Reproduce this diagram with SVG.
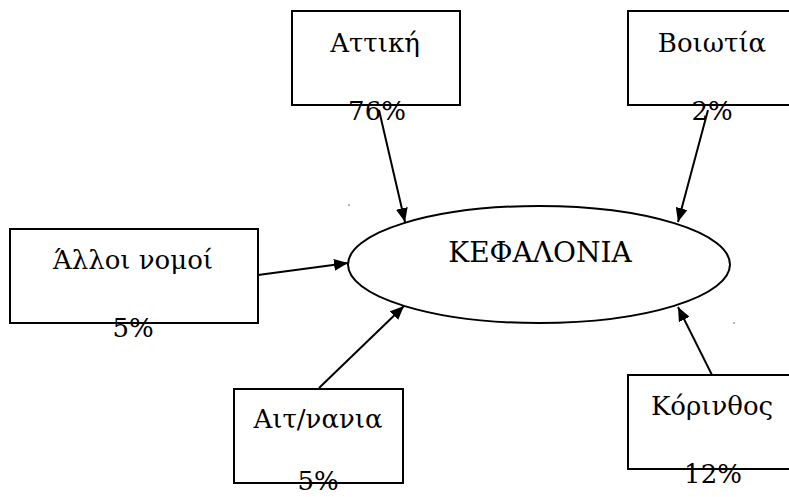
<svg xmlns="http://www.w3.org/2000/svg" width="789" height="497" viewBox="0 0 789 497">
<style>
.box{fill:#fff;stroke:#000;stroke-width:2}
.t{font-family:"DejaVu Serif","Liberation Serif",serif;font-size:26px;fill:#000;text-anchor:middle}
.c{stroke:#000;stroke-width:2;fill:none;marker-end:url(#ah)}
</style>
<defs>
<marker id="ah" markerWidth="14" markerHeight="12" refX="14" refY="6" orient="auto" markerUnits="userSpaceOnUse" viewBox="0 0 14 12">
<path d="M0,0 L14,6 L0,12 z" fill="#000"/>
</marker>
</defs>
<rect width="789" height="497" fill="#fff"/>
<g id="kefalonia">
<ellipse cx="539" cy="264.5" rx="191" ry="58.5" fill="#fff" stroke="#000" stroke-width="2"/>
<text class="t" x="540" y="262" style="font-size:28px">ΚΕΦΑΛΟΝΙΑ</text>
</g>
<g id="attiki">
<rect class="box" x="292" y="11" width="168" height="94"/>
<text class="t" x="375" y="52">Αττική</text>
<text class="t" x="377" y="120">76%</text>
</g>
<g id="voiotia">
<rect class="box" x="628" y="11" width="170" height="94"/>
<text class="t" x="712" y="52">Βοιωτία</text>
<text class="t" x="712" y="120">2%</text>
</g>
<g id="alloi">
<rect class="box" x="10" y="229" width="248" height="94"/>
<text class="t" x="133" y="269">Άλλοι νομοί</text>
<text class="t" x="133" y="337">5%</text>
</g>
<g id="aitoloakarnania">
<rect class="box" x="234" y="389" width="169" height="94"/>
<text class="t" x="318" y="428">Αιτ/νανια</text>
<text class="t" x="318" y="490">5%</text>
</g>
<g id="korinthos">
<rect class="box" x="628" y="375" width="170" height="94"/>
<text class="t" x="712" y="415">Κόρινθος</text>
<text class="t" x="713" y="483">12%</text>
</g>
<g id="connectors">
<path class="c" d="M379,110 L405,222"/>
<path class="c" d="M708,110 L678,222"/>
<path class="c" d="M258,275 L348,263"/>
<path class="c" d="M319,388 L404,306"/>
<path class="c" d="M712,375 L678,307"/>
</g>
<circle cx="349" cy="205" r="0.8" fill="#555"/>
<circle cx="734" cy="323" r="0.8" fill="#555"/>
</svg>
